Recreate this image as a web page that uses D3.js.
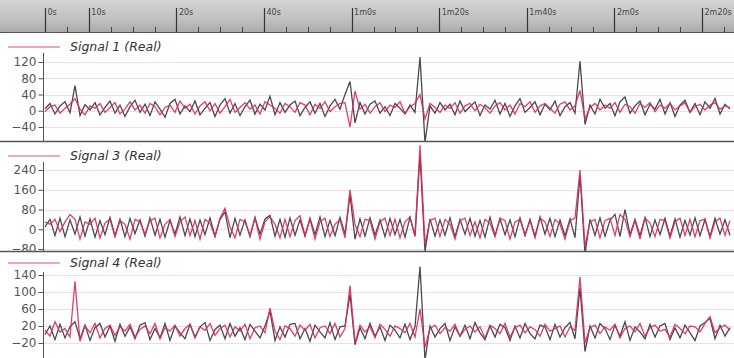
<!DOCTYPE html>
<html><head><meta charset="utf-8">
<script src="https://cdn.jsdelivr.net/npm/d3@7"></script>
<style>body{margin:0;background:#fff}svg{display:block}</style>
</head><body><svg id="c" width="734" height="358"></svg>
<script>
// ---- data ----
const timeTicks = [-10, 0, 20, 40, 60, 80, 100, 120, 140];
const timeLabels = ["0s", "10s", "20s", "40s", "1m0s", "1m20s", "1m40s", "2m0s", "2m20s"];
const minorTicks = [-5, 5, 10, 15, 25, 30, 35, 45, 50, 55, 65, 70, 75, 85, 90, 95, 105, 110, 115, 125, 130, 135, 145];
const signalNames = ["Signal 1 (Real)", "Signal 3 (Real)", "Signal 4 (Real)"];
const ticks1 = [-40, 0, 40, 80, 120];
const ticks3 = [-80, 0, 80, 160, 240];
const ticks4 = [-20, 20, 60, 100, 140];

const s1Dark = [5,18,-8,12,22,-5,62,-12,15,2, 20,-10,8,24,-6,14,-14,10,26,-4, 16,-12,22,4,-16,18,28,-8,12,-2,
 24,-10,6,20,-14,14,30,-6,18,-12, 10,26,-8,16,2,36,-10,20,-4,14, 24,-12,8,22,-6,18,-14,12,28,4,
 40,72,-30,20,-8,16,24,-6,10,-12, 18,6,-8,14,-4,132,-78,12,-6,20, 2,16,-10,24,-2,10,22,-12,14,4,
 26,-8,18,-14,12,30,-4,8,22,-10, 16,2,24,-12,10,20,-6,122,-34,14, -8,28,6,18,-12,22,34,-6,12,24,
 -10,16,4,28,-8,20,-14,14,26,-4, 18,-10,22,6,30,-8,16,4];
const s1Red = [-2,10,14,-6,6,16,30,4,-10,12, 6,18,-4,8,20,-8,4,22,2,14, -6,18,10,-10,8,14,-4,24,6,16,
 -8,12,22,0,18,-6,10,28,-4,8, 20,4,14,-8,22,14,6,-6,18,10, -4,20,14,-10,16,6,22,-2,10,18,
 20,-40,48,4,16,-6,10,20,-2,14, 8,22,-6,10,18,40,-20,18,8,-4, 14,6,20,-6,12,18,0,16,8,-6,
 12,20,2,14,-8,18,10,22,-4,12, 18,6,-6,16,22,2,12,50,-20,8, 18,2,14,6,20,-4,16,10,-6,18,
 8,20,-2,14,6,18,2,12,20,-4, 10,16,2,14,20,4,12,8];

const s3Dark = [10,40,-25,45,-30,38,-20,50,-28,42, -32,35,-22,48,-26,40,-30,44,-18,38, -28,46,-24,40,-32,36,-20,50,-26,42,
 -30,38,-22,46,-28,40,70,-34,44,-24, 38,-30,48,-20,42,56,-28,40,-32,46, -24,38,-28,44,-22,50,-30,36,-26,48,
 -20,140,-40,42,-28,46,-24,38,-30,44, -22,40,-32,48,-26,300,-90,42,-28,38, -24,46,-30,40,-20,44,-28,36,-32,48,
 -26,42,-22,38,-30,46,-24,40,-28,50, -20,44,-30,38,-26,42,-34,220,-100,40, -24,46,-28,36,60,-30,80,-22,40,-26,
 48,-30,38,-22,44,-28,42,-32,36,-24, 46,-26,40,-30,44,-20,38,-24];
const s3Red = [30,20,40,-10,30,60,40,-40,30,20, 45,-35,25,40,-30,35,20,-40,40,30, -20,35,45,-35,20,40,-30,30,50,-25,
 35,-40,40,25,-30,45,85,10,-35,40, 30,-25,45,-40,30,50,20,-35,40,-30, 35,55,-25,40,-40,30,45,-30,20,40,
 -35,160,20,-30,40,35,-40,30,45,-25, 40,-35,30,50,-30,340,-60,35,45,-30, 40,20,-40,35,45,-25,30,-35,40,25,
 -30,45,35,-40,30,40,-25,35,-35,45, 30,-30,40,20,-40,35,45,240,-70,30, 40,-35,35,45,-25,60,40,-30,35,-40,
 45,25,-30,40,35,-35,30,45,-25,40, -30,35,40,-35,30,45,-25,35];

const s4Dark = [0,20,-12,24,-8,18,30,-10,22,-14, 16,26,-6,20,-16,24,-4,18,-10,22, 28,-12,14,-8,26,-14,20,4,-10,24,
 -6,18,28,-14,12,22,-10,26,-4,16, -12,24,8,-8,20,55,-14,18,-6,24, 26,-10,14,-16,22,6,-8,28,-12,18,
 20,95,-24,16,-10,26,-4,18,-14,22, 10,-8,24,-12,18,160,-60,20,-6,14, 26,-14,18,-4,22,-10,28,4,-12,20,
 -6,24,16,-14,20,-8,26,2,-10,22, 18,-12,24,-6,16,28,-10,110,-40,20, -8,26,14,-12,22,-4,30,-14,18,6,
 -10,24,-6,20,26,-12,16,-8,22,4, -14,20,28,38,-10,22,-4,16];
const s4Red = [10,-4,30,6,14,-6,125,-16,20,4, 26,-8,14,22,-2,18,8,24,-6,12, 20,2,26,-10,16,8,22,-4,14,24,
 -8,18,10,26,-2,14,22,-6,18,8, 24,-10,16,20,4,62,8,-12,20,14, -4,22,10,24,-8,16,20,2,26,-6,
 14,115,-20,22,6,18,-8,24,12,-4, 20,14,4,26,-6,60,-30,14,22,2, 16,8,24,-4,12,20,6,18,-8,22,
 14,2,26,-6,16,22,4,18,12,-4, 24,8,14,20,-6,18,10,135,-20,16, 22,2,18,10,24,-8,14,20,6,26,
 -4,16,22,8,12,-6,24,14,2,20, 18,6,26,42,4,16,22,10];

// ---- layout ----
const W = 734, H = 358;
const svg = d3.select("#c");
const defs = svg.append("defs");
const grad = defs.append("linearGradient").attr("id", "band").attr("x1", 0).attr("y1", 0).attr("x2", 0).attr("y2", 1);
grad.append("stop").attr("offset", "0%").attr("stop-color", "#d4d4d4");
grad.append("stop").attr("offset", "60%").attr("stop-color", "#c0c0c0");
grad.append("stop").attr("offset", "100%").attr("stop-color", "#a8a8a8");

// top time axis band
svg.append("rect").attr("x", 0).attr("y", 0).attr("width", W).attr("height", 33).attr("fill", "url(#band)");
const tScale = d3.scaleLinear().domain([-10, 140]).range([45, 702]);
const tAxis = svg.append("g");
tAxis.append("line").attr("x1", 0).attr("x2", W).attr("y1", 32.5).attr("y2", 32.5).attr("stroke", "#555").attr("stroke-width", 1.2);
tAxis.selectAll(".maj").data(timeTicks).join("line")
  .attr("x1", d => Math.round(tScale(d)) + 0.5).attr("x2", d => Math.round(tScale(d)) + 0.5)
  .attr("y1", 8).attr("y2", 32).attr("stroke", "#333").attr("stroke-width", 1.2);
tAxis.selectAll(".min").data(minorTicks).join("line")
  .attr("x1", d => Math.round(tScale(d)) + 0.5).attr("x2", d => Math.round(tScale(d)) + 0.5)
  .attr("y1", 27).attr("y2", 32).attr("stroke", "#444").attr("stroke-width", 1);
tAxis.selectAll(".lab").data(timeTicks).join("text")
  .attr("x", d => tScale(d) + 2.5).attr("y", 15)
  .attr("font-family", "DejaVu Sans, sans-serif").attr("font-size", 8).attr("fill", "#444")
  .text((d, i) => timeLabels[i]);

const N = s1Dark.length;
const xScale = d3.scaleLinear().domain([0, N - 1]).range([45, 730]);

const panels = [
  { name: signalNames[0], top: 33, bottom: 141, legendY: 47, domain: [-40, 120], range: [127, 62], ticks: ticks1, dark: s1Dark, red: s1Red },
  { name: signalNames[1], top: 142, bottom: 251, legendY: 156, domain: [-80, 240], range: [249, 170], ticks: ticks3, dark: s3Dark, red: s3Red },
  { name: signalNames[2], top: 252, bottom: 358, legendY: 263, domain: [-20, 140], range: [343, 275], ticks: ticks4, dark: s4Dark, red: s4Red }
];

panels.forEach((p, k) => {
  const cid = "clip" + k;
  defs.append("clipPath").attr("id", cid).append("rect")
    .attr("x", 0).attr("y", p.top).attr("width", W).attr("height", p.bottom - p.top);
  const g = svg.append("g").attr("clip-path", `url(#${cid})`);
  const y = d3.scaleLinear().domain(p.domain).range(p.range);

  // faint gridlines
  g.selectAll(".grid").data(p.ticks).join("line")
    .attr("x1", 44).attr("x2", W).attr("y1", d => Math.round(y(d)) + 0.5).attr("y2", d => Math.round(y(d)) + 0.5)
    .attr("stroke", "#f2dde2").attr("stroke-width", 1);

  // legend
  g.append("line").attr("x1", 8).attr("x2", 60).attr("y1", p.legendY).attr("y2", p.legendY)
    .attr("stroke", "#e0506e").attr("stroke-width", 1.2);
  g.append("text").attr("x", 70).attr("y", p.legendY + 4)
    .attr("font-family", "DejaVu Sans, sans-serif").attr("font-style", "italic").attr("font-size", 12.5)
    .attr("fill", "#333").text(p.name);

  // y axis
  const ax = g.append("g").attr("transform", "translate(43.5,0)")
    .call(d3.axisLeft(y).tickValues(p.ticks).tickSize(5).tickSizeOuter(0).tickPadding(2));
  ax.select(".domain").remove();
  ax.selectAll("line").attr("stroke", "#555");
  ax.selectAll("text").attr("font-family", "DejaVu Sans, sans-serif").attr("font-size", 12).attr("fill", "#555");
  g.append("line").attr("x1", 43.5).attr("x2", 43.5).attr("y1", p.top + 20).attr("y2", p.bottom)
    .attr("stroke", "#555").attr("stroke-width", 1);

  // signal lines
  const line = d3.line().x((d, i) => xScale(i)).y(d => y(d));
  g.append("path").datum(p.dark).attr("d", line).attr("fill", "none")
    .attr("stroke", "#4a4a4a").attr("stroke-width", 1.3);
  g.append("path").datum(p.red).attr("d", line).attr("fill", "none")
    .attr("stroke", "#dc2a55").attr("stroke-width", 1.3).attr("stroke-opacity", 0.9);

  // separator
  if (p.bottom < H) {
    svg.append("line").attr("x1", 0).attr("x2", W).attr("y1", p.bottom + 0.5).attr("y2", p.bottom + 0.5)
      .attr("stroke", "#555").attr("stroke-width", 1.5);
  }
});
</script></body></html>
